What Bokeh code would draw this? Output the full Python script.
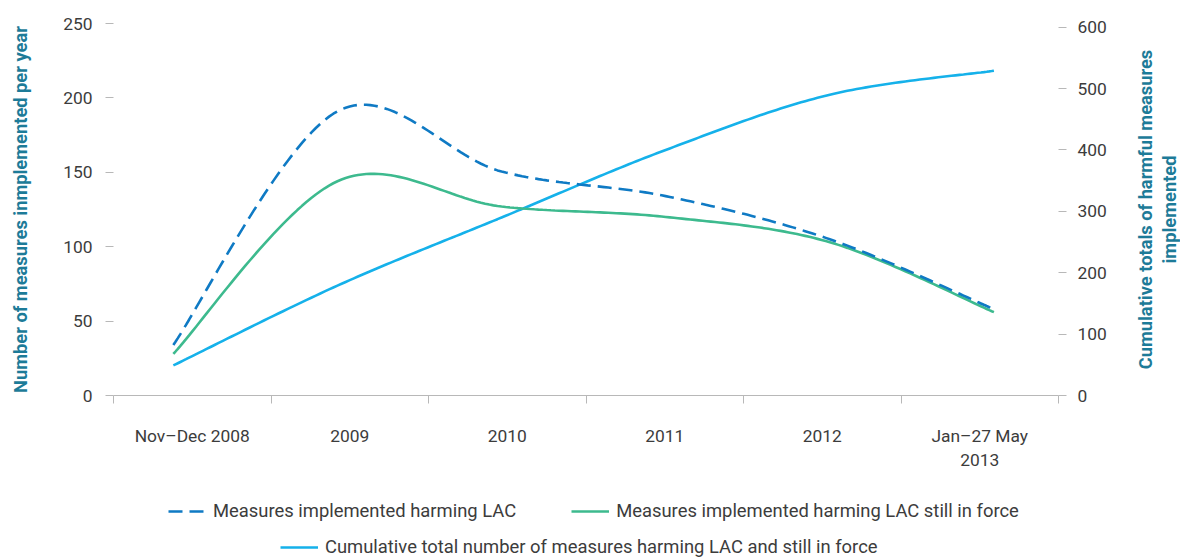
import math
import numpy as np
from bokeh.plotting import figure
from bokeh.layouts import column, row
from bokeh.models import Range1d, LinearAxis, FixedTicker, Legend, LegendItem, Label
from bokeh.embed import file_html
from bokeh.resources import INLINE

# ---------------- data ----------------
categories = ["Nov–Dec 2008", "2009", "2010", "2011", "2012", "Jan–27 May\n2013"]
implemented = [34, 191, 150.5, 134, 105, 58]          # left axis, dashed
still_in_force = [28, 144, 127, 120, 103, 56]         # left axis, green
cumulative = [49, 179, 290, 400, 490, 529]            # right axis, cyan
left_ticks = [0, 50, 100, 150, 200, 250]
right_ticks = [0, 100, 200, 300, 400, 500, 600]

series_names = [
    "Measures implemented harming LAC",
    "Measures implemented harming LAC still in force",
    "Cumulative total number of measures harming LAC and still in force",
]
left_title = "Number of measures inmplemented per year"
right_title = "Cumulative totals of harmful measures\nimplemented"

# ---------------- styles ----------------
C_DASH = "#0f7ac4"
C_GREEN = "#3dba8e"
C_CYAN = "#15b1ea"
C_TITLE = "#1d7b98"
C_TEXT = "#3c3c3c"
C_AXIS = "#b8b8b8"
FONT = "Roboto"
TICK_SIZE = "17.4px"
TITLE_SIZE = "18.3px"
LEGEND_SIZE = "18.4px"
DASH = "14 7"
LW = 2.6

# point positions along the category axis (layout)
PT_START, PT_END = 0.38, 5.59


def smooth(xs, ys, steps=40):
    """Catmull-Rom curve through the points (rendering only)."""
    P = np.column_stack([xs, ys]).astype(float)
    ext = np.vstack([P[0], P, P[-1]])
    out = []
    n = len(P)
    for i in range(n - 1):
        p0, p1, p2, p3 = ext[i], ext[i + 1], ext[i + 2], ext[i + 3]
        t = np.linspace(0, 1, steps, endpoint=(i == n - 2))[:, None]
        m1 = (p2 - p0) / 2.0
        m2 = (p3 - p1) / 2.0
        h00 = 2 * t**3 - 3 * t**2 + 1
        h10 = t**3 - 2 * t**2 + t
        h01 = -2 * t**3 + 3 * t**2
        h11 = t**3 - t**2
        out.append(h00 * p1 + h10 * m1 + h01 * p2 + h11 * m2)
    c = np.vstack(out)
    return c[:, 0], c[:, 1]


def blank(fig):
    fig.grid.visible = False
    fig.outline_line_color = None
    fig.background_fill_color = "white"
    fig.border_fill_color = "white"


n = len(categories)
xs = np.linspace(PT_START, PT_END, n)

# ---------------- main chart ----------------
p = figure(
    width=1120, height=472,
    x_range=Range1d(0, n), y_range=Range1d(0, 250),
    output_backend="svg", toolbar_location=None,
    min_border_left=113, min_border_right=62,
    min_border_top=23, min_border_bottom=75,
)
p.extra_y_ranges = {"cum": Range1d(0, 606)}
blank(p)

xa = p.xaxis[0]
xa.ticker = FixedTicker(ticks=[k + 0.5 for k in range(n)], minor_ticks=list(range(n + 1)))
xa.major_label_overrides = {k + 0.5: categories[k] for k in range(n)}
xa.major_tick_line_color = None
xa.major_tick_in = 0
xa.major_tick_out = 8
xa.minor_tick_in = 0
xa.minor_tick_out = 8
xa.minor_tick_line_color = C_AXIS
xa.axis_line_color = C_AXIS
xa.major_label_standoff = 22
xa.major_label_text_font = FONT
xa.major_label_text_font_size = TICK_SIZE
xa.major_label_text_color = C_TEXT


def style_y(ax, standoff):
    ax.axis_line_color = None
    ax.major_tick_in = 0
    ax.major_tick_out = 8
    ax.major_tick_line_color = C_AXIS
    ax.minor_tick_line_color = None
    ax.major_label_standoff = standoff
    ax.major_label_text_font = FONT
    ax.major_label_text_font_size = TICK_SIZE
    ax.major_label_text_color = C_TEXT
    ax.axis_label_text_font = FONT
    ax.axis_label_text_font_size = TITLE_SIZE
    ax.axis_label_text_font_style = "bold"
    ax.axis_label_text_color = C_TITLE


ya = p.yaxis[0]
ya.ticker = FixedTicker(ticks=left_ticks)
ya.axis_label = left_title
style_y(ya, 13)
ya.axis_label_standoff = 29

yr = LinearAxis(y_range_name="cum", ticker=FixedTicker(ticks=right_ticks))
style_y(yr, 11)
p.add_layout(yr, "right")

x1, y1 = smooth(xs, implemented)
x2, y2 = smooth(xs, still_in_force)
x3, y3 = smooth(xs, cumulative)

p.line(x3, y3, color=C_CYAN, line_width=LW, y_range_name="cum")
p.line(x2, y2, color=C_GREEN, line_width=LW)
p.line(x1, y1, color=C_DASH, line_width=LW, line_dash=DASH)

# ---------------- right-hand axis title strip ----------------
side = figure(
    width=60, height=472,
    x_range=Range1d(0, 1), y_range=Range1d(0, 1),
    output_backend="svg", toolbar_location=None,
    x_axis_location=None, y_axis_location=None,
    min_border_left=0, min_border_right=0,
    min_border_top=23, min_border_bottom=75,
)
blank(side)
side.add_layout(Label(
    x=0.62, y=0.5, text=right_title, angle=math.pi / 2,
    text_align="center", text_baseline="middle",
    text_font=FONT, text_font_size=TITLE_SIZE, text_font_style="bold",
    text_color=C_TITLE, text_line_height=1.15,
))

# ---------------- legend strip ----------------
lp = figure(
    width=1180, height=85,
    x_range=Range1d(0, 1), y_range=Range1d(0, 1),
    output_backend="svg", toolbar_location=None,
    x_axis_location=None, y_axis_location=None,
    min_border_left=113, min_border_right=122,
    min_border_top=0, min_border_bottom=0,
)
blank(lp)

# legend swatches (data kept outside the visible range)
g_impl = lp.line([2, 3], [2, 3], color=C_DASH, line_width=LW, line_dash=DASH)
g_force = lp.line([2, 3], [2, 3], color=C_GREEN, line_width=LW)
g_cum = lp.line([2, 3], [2, 3], color=C_CYAN, line_width=LW)


def make_legend(items, loc):
    lg = Legend(items=items, location=loc, orientation="horizontal")
    lg.spacing = 55
    lg.label_standoff = 7
    lg.glyph_width = 38
    lg.glyph_height = 20
    lg.label_height = 20
    lg.padding = 0
    lg.margin = 0
    lg.border_line_color = None
    lg.background_fill_alpha = 0
    lg.label_text_font = FONT
    lg.label_text_font_size = LEGEND_SIZE
    lg.label_text_color = C_TEXT
    return lg


leg1 = make_legend([
    LegendItem(label=series_names[0], renderers=[g_impl]),
    LegendItem(label=series_names[1], renderers=[g_force]),
], (55, 36))
leg2 = make_legend([
    LegendItem(label=series_names[2], renderers=[g_cum]),
], (167, 0))
lp.add_layout(leg1)
lp.add_layout(leg2)

layout = column(row(p, side, spacing=0), lp, spacing=0)
open("out.html", "w").write(file_html(layout, INLINE))
